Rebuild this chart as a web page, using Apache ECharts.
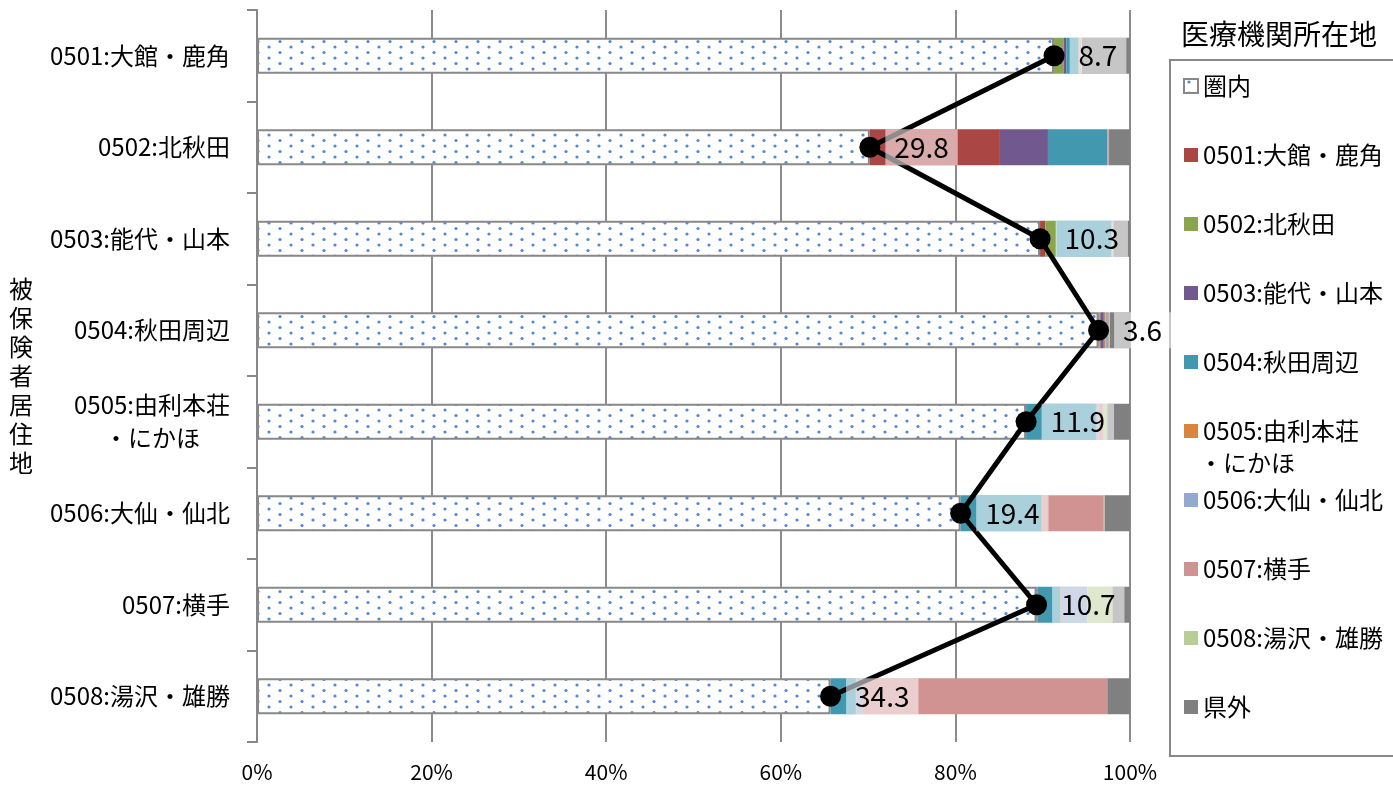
<!DOCTYPE html>
<html>
<head>
<meta charset="utf-8">
<script src="https://cdn.jsdelivr.net/npm/echarts@6/dist/echarts.min.js"></script>
<style>
html,body{margin:0;padding:0;background:#fff;}
#chart{width:1393px;height:790px;}
</style>
</head>
<body>
<div id="chart"></div>
<script>
// ---- data ----
const categories = ['0501:大館・鹿角','0502:北秋田','0503:能代・山本','0504:秋田周辺','0505:由利本荘\n・にかほ','0506:大仙・仙北','0507:横手','0508:湯沢・雄勝'];
const seriesNames = ['圏内','0501:大館・鹿角','0502:北秋田','0503:能代・山本','0504:秋田周辺','0505:由利本荘・にかほ','0506:大仙・仙北','0507:横手','0508:湯沢・雄勝','県外'];
const inside   = [91.3, 70.2, 89.7, 96.4, 88.1, 80.6, 89.3, 65.7];
const to0501   = [0,    14.9, 0.6,  0.1,  0,    0,    0,    0];
const to0502   = [1.1,  0,    1.3,  0.1,  0,    0,    0,    0];
const to0503   = [0.3,  5.5,  0,    0.4,  0,    0,    0.1,  0];
const to0504   = [1.4,  6.8,  6.3,  0,    8.0,  9.3,  2.6,  2.9];
const to0505   = [0.1,  0,    0,    0.2,  0,    0.1,  0.1,  0.1];
const to0506   = [0.1,  0.1,  0.1,  0.3,  0.3,  0,    3.0,  0.7];
const to0507   = [0.1,  0.1,  0.1,  0.1,  0.5,  7.0,  0,    28.0];
const to0508   = [0.1,  0,    0,    0.1,  0.5,  0.1,  2.9,  0];
const outside  = [5.5,  2.4,  1.9,  2.3,  2.6,  2.9,  2.0,  2.6];
const outflow  = [8.7, 29.8, 10.3, 3.6, 11.9, 19.4, 10.7, 34.3];
const xTicks = [0, 20, 40, 60, 80, 100];
const barData = [inside, to0501, to0502, to0503, to0504, to0505, to0506, to0507, to0508, outside];
const colors = [null, '#aa4643', '#89a54e', '#71588f', '#4198af', '#db843d', '#93a9cf', '#d19392', '#b9cd96', '#808080'];

// dotted pattern for 圏内
const tile = document.createElement('canvas');
tile.width = 22; tile.height = 11;
const tc = tile.getContext('2d');
tc.fillStyle = '#ffffff'; tc.fillRect(0, 0, 22, 11);
tc.fillStyle = 'rgba(60,125,210,0.9)';
tc.beginPath(); tc.arc(5, 3, 1.6, 0, Math.PI * 2); tc.fill();
tc.beginPath(); tc.arc(16, 8.5, 1.6, 0, Math.PI * 2); tc.fill();

const FONT = '"Noto Sans CJK JP", "Noto Sans", sans-serif';

const series = barData.map((d, i) => ({
  name: seriesNames[i],
  type: 'bar',
  stack: 'share',
  barWidth: 36,
  data: d,
  itemStyle: i === 0
    ? { color: { image: tile, repeat: 'repeat' }, borderColor: '#888888', borderWidth: 2 }
    : { color: colors[i], borderWidth: 0 },
  emphasis: { disabled: true },
  z: 2
}));

series.push({
  name: '流出率',
  type: 'line',
  data: inside,
  symbol: 'circle',
  symbolSize: 21,
  itemStyle: { color: '#000' },
  lineStyle: { color: '#000', width: 5 },
  z: 5,
  label: {
    show: true,
    position: 'right',
    distance: 5,
    formatter: p => outflow[p.dataIndex].toFixed(1),
    fontFamily: FONT,
    fontSize: 28,
    color: '#000',
    lineHeight: 36,
    padding: [0, 9],
    backgroundColor: 'rgba(255,255,255,0.55)'
  },
  emphasis: { disabled: true }
});

const chart = echarts.init(document.getElementById('chart'));
chart.setOption({
  animation: false,
  backgroundColor: '#ffffff',
  title: {
    text: '医療機関所在地',
    left: 1181, top: 20, padding: 0,
    textStyle: { fontFamily: FONT, fontSize: 28, fontWeight: 'normal', color: '#000' }
  },
  legend: {
    data: seriesNames,
    orient: 'vertical',
    left: 1170, top: 60,
    itemWidth: 14, itemHeight: 14,
    itemGap: 45,
    padding: [14, 80, 37, 13],
    borderColor: '#888888', borderWidth: 2,
    icon: 'rect',
    selectedMode: false,
    formatter: n => n === '0505:由利本荘・にかほ' ? '0505:由利本荘' : n,
    textStyle: { fontFamily: FONT, fontSize: 24, color: '#000', lineHeight: 24 }
  },
  graphic: [{
    type: 'text', left: 1199, top: 451,
    style: { text: '・にかほ', font: '24px "Noto Sans CJK JP"', fill: '#000' }
  }],
  grid: { left: 257, right: 263, top: 10, bottom: 48 },
  xAxis: {
    type: 'value', min: 0, max: 100, interval: 20,
    axisLine: { show: false }, axisTick: { show: false },
    axisLabel: { formatter: v => xTicks.includes(v) ? v + '%' : '', fontFamily: FONT, fontSize: 21, color: '#000', margin: 20 },
    splitLine: { show: true, lineStyle: { color: '#8c8c8c', width: 2 } }
  },
  yAxis: {
    type: 'category', data: categories, inverse: true,
    axisLine: { show: true, lineStyle: { color: '#888888', width: 2 } },
    axisTick: { show: true, length: 10, lineStyle: { color: '#888888', width: 2 } },
    axisLabel: {
      margin: 27, fontFamily: FONT, fontSize: 24, color: '#000', lineHeight: 33,
      formatter: v => {
        const parts = v.split('\n');
        if (parts.length > 1) return '{a|' + parts[0] + '}\n{b|' + parts[1] + '}';
        return v;
      },
      rich: {
        a: { fontFamily: FONT, fontSize: 24, color: '#000', lineHeight: 33, align: 'right' },
        b: { fontFamily: FONT, fontSize: 24, color: '#000', lineHeight: 33, align: 'center' }
      }
    },
    name: '被\n保\n険\n者\n居\n住\n地',
    nameLocation: 'middle', nameRotate: 0, nameGap: 224,
    nameTextStyle: { fontFamily: FONT, fontSize: 24, color: '#000', lineHeight: 29 }
  },
  series: series
});
</script>
</body>
</html>
